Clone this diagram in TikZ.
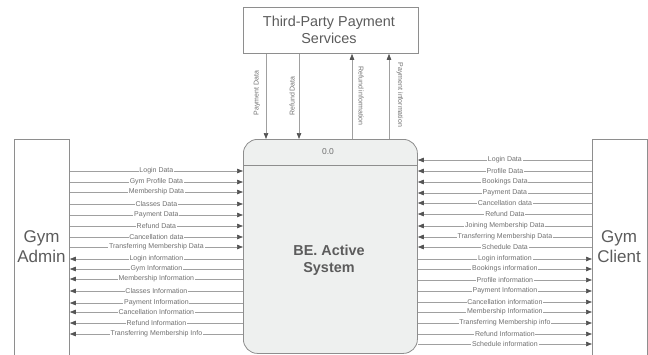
\documentclass[tikz,border=0pt]{standalone}
\usepackage{fontspec}
\setmainfont{Liberation Sans}
\usetikzlibrary{arrows.meta}
\definecolor{linegray}{HTML}{A0A0A0}
\definecolor{tipgray}{HTML}{555555}
\definecolor{txtgray}{HTML}{707070}
\definecolor{boxfill}{HTML}{EEF0EF}
\definecolor{boxline}{HTML}{8E8E8E}
\definecolor{bigtxt}{HTML}{5C5C5C}
\begin{document}
\begin{tikzpicture}[x=1pt,y=-1pt,
  ent/.style={draw=boxline, fill=white, line width=0.8pt, inner sep=0pt},
  flow/.style={draw=linegray, line width=0.7pt, -{Triangle[length=6pt,width=4.5pt,color=tipgray]}},
  lbl/.style={fill=white, text=txtgray, font=\fontsize{7}{8}\selectfont, inner sep=0.8pt},
  vlbl/.style={text=txtgray, font=\fontsize{7}{8}\selectfont, inner sep=0pt},
  big/.style={text=bigtxt, align=center, font=\fontsize{17}{20}\selectfont}
]
\useasboundingbox (0,0) rectangle (648,354);

% entities
\node[ent, minimum width=55pt, minimum height=240pt, anchor=north west] (admin) at (14,139) {};
\node[ent, minimum width=55pt, minimum height=240pt, anchor=north west] (client) at (592,139) {};
\node[ent, minimum width=175pt, minimum height=46pt, anchor=north west] (tp) at (243,7) {};
\node[big] (admintxt) at (41.5,247) {Gym\\Admin};
\node[big] (clienttxt) at (619,247) {Gym\\Client};
\node[text=bigtxt, align=center, font=\fontsize{14.4}{17}\selectfont] (tptxt) at (329,30) {Third-Party Payment\\Services};

% process
\node[draw=boxline, fill=boxfill, line width=0.8pt, rounded corners=14pt, minimum width=174pt, minimum height=214pt, anchor=north west, inner sep=0pt] (sys) at (243,139) {};
\draw[boxline, line width=0.8pt] (sys.west |- 0,165) -- (sys.east |- 0,165);
\node[text=txtgray, font=\fontsize{8.5}{10}\selectfont] (pid) at (328,152) {0.0};
\node[text=bigtxt, align=center, font=\fontsize{14.4}{17}\selectfont\bfseries] (systxt) at (329,260) {BE. Active\\System};

% third-party flows
\draw[flow] (tp.south -| 266,0) -- (sys.north -| 266,0);
\draw[flow] (tp.south -| 299,0) -- (sys.north -| 299,0);
\draw[flow] (sys.north -| 352,0) -- (tp.south -| 352,0);
\draw[flow] (sys.north -| 389,0) -- (tp.south -| 389,0);
\node[vlbl, rotate=90] (v1) at (257,93) {Payment Data};
\node[vlbl, rotate=90] (v2) at (292,96) {Refund Data};
\node[vlbl, rotate=-90] (v3) at (361,96) {Refund information};
\node[vlbl, rotate=-90] (v4) at (400,95) {Payment information};

% admin -> system
\foreach \y/\t in {171/Login Data, 182/Gym Profile Data, 192/Membership Data, 204/Classes Data, 215/Payment Data, 226/Refund Data, 237/Cancellation data, 247/Transferring Membership Data}
  \draw[flow] (admin.east |- 0,\y) -- node[lbl] (ai\y) {\t} (sys.west |- 0,\y);
% system -> admin
\foreach \y/\t in {259/Login information, 269/Gym Information, 279/Membership Information, 291/Classes Information, 303/Payment Information, 312/Cancellation Information, 323/Refund Information, 334/Transferring Membership Info}
  \draw[flow] (sys.west |- 0,\y) -- node[lbl] (ao\y) {\t} (admin.east |- 0,\y);
% client -> system
\foreach \y/\t in {160/Login Data, 171/Profile Data, 182/Bookings Data, 193/Payment Data, 203/Cancellation data, 214/Refund Data, 226/Joining Membership Data, 237/Transferring Membership Data, 247/Schedule Data}
  \draw[flow] (client.west |- 0,\y) -- node[lbl] (ci\y) {\t} (sys.east |- 0,\y);
% system -> client
\foreach \y/\t in {259/Login information, 269/Bookings information, 280/Profile information, 291/Payment Information, 302/Cancellation information, 312/Membership Information, 323/Transferring Membership info, 334/Refund Information, 344/Schedule information}
  \draw[flow] (sys.east |- 0,\y) -- node[lbl] (co\y) {\t} (client.west |- 0,\y);
\end{tikzpicture}
\end{document}
